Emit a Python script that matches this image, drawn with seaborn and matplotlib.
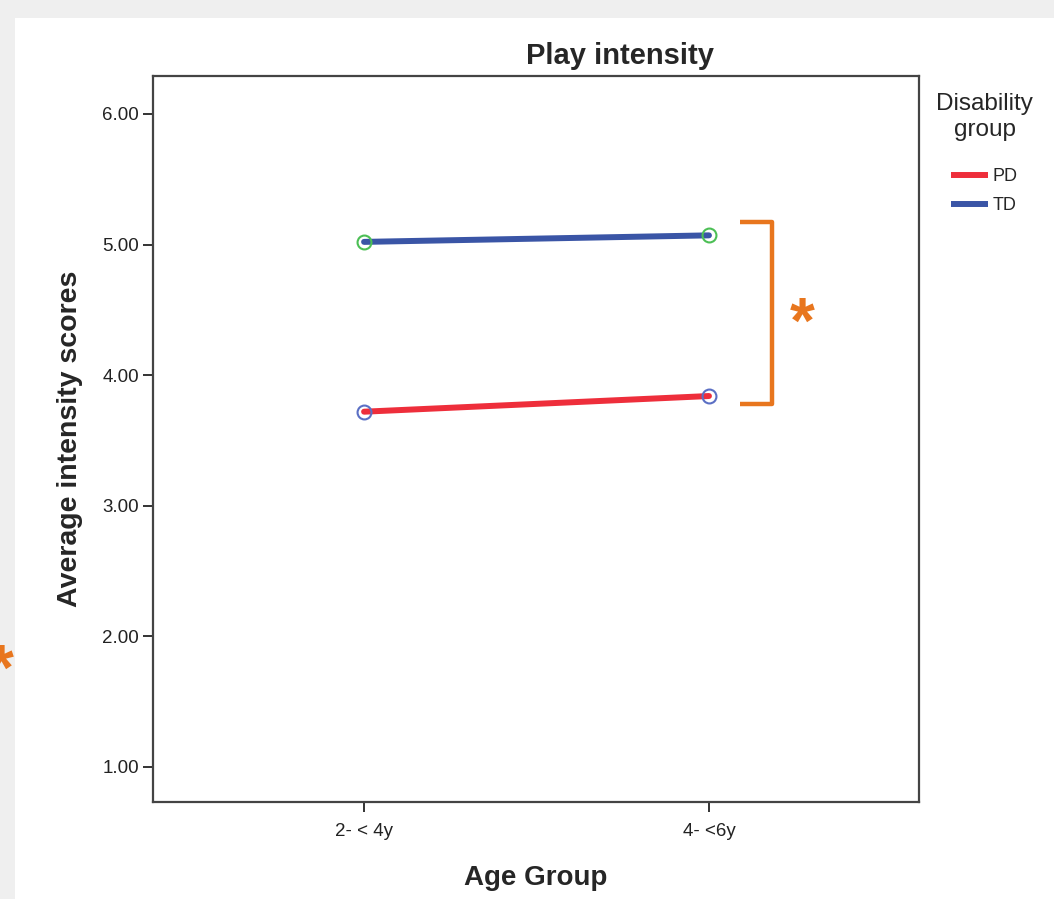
import matplotlib
matplotlib.use("Agg")
import matplotlib.pyplot as plt
import seaborn as sns
import pandas as pd
from matplotlib.patches import Rectangle
from matplotlib.lines import Line2D

age_groups = ["2- < 4y", "4- <6y"]
groups = ["PD", "TD"]
pd_scores = [3.72, 3.84]
td_scores = [5.02, 5.07]
y_ticks = [1.0, 2.0, 3.0, 4.0, 5.0, 6.0]

df = pd.DataFrame({
    "age": age_groups * 2,
    "group": ["PD"] * 2 + ["TD"] * 2,
    "score": pd_scores + td_scores,
})

sns.set_style("white")
plt.rcParams["font.family"] = ["Liberation Sans", "DejaVu Sans"]

W, H = 1054, 899
fig = plt.figure(figsize=(W / 100, H / 100), dpi=100, facecolor="white")
# light grey screenshot border
fig.patches.append(Rectangle((0, 1 - 18 / H), 1, 18 / H, transform=fig.transFigure,
                             facecolor="#efefef", edgecolor="none", zorder=0))
fig.patches.append(Rectangle((0, 0), 15 / W, 1, transform=fig.transFigure,
                             facecolor="#efefef", edgecolor="none", zorder=0))

ax = fig.add_axes([153 / W, 1 - 802 / H, (919 - 153) / W, (802 - 76) / H])

line_colors = {"PD": "#ee2e3b", "TD": "#3a55a6"}
marker_colors = {"PD": "#5b6fc4", "TD": "#4cbf55"}

sns.lineplot(data=df, x="age", y="score", hue="group", palette=line_colors,
             linewidth=4.3, ax=ax, legend=False, sort=False)
for g in groups:
    sub = df[df["group"] == g]
    ax.plot(sub["age"], sub["score"], linestyle="none", marker="o", markersize=10,
            markerfacecolor="none", markeredgecolor=marker_colors[g], markeredgewidth=1.5)

ax.set_xlim(-0.612, 1.609)
ax.set_ylim(0.732, 6.29)
ax.set_yticks(y_ticks)
ax.set_yticklabels([f"{v:.2f}" for v in y_ticks], fontsize=13.5, color="#222222")
ax.tick_params(axis="x", labelsize=13.5, colors="#222222", pad=8)
ax.tick_params(axis="y", pad=3)
ax.tick_params(axis="both", direction="out", length=7, width=1.4, color="#333333",
               left=True, bottom=True)
for s in ax.spines.values():
    s.set_color("#444444")
    s.set_linewidth(1.6)

ax.set_title("Play intensity", fontsize=21, fontweight="bold", pad=9, x=0.61)
ax.set_xlabel("Age Group", fontsize=20, fontweight="bold", labelpad=18)
ax.set_ylabel("Average intensity scores", fontsize=20.5, fontweight="bold", labelpad=14)

# legend
handles = [Line2D([0], [0], color=line_colors[g], lw=4.3, solid_capstyle="butt")
           for g in groups]
leg = fig.legend(handles, groups, title="Disability\ngroup", loc="upper left",
                 bbox_to_anchor=(929 / W, 1 - 86 / H), frameon=False, fontsize=13,
                 title_fontsize=17.5, handlelength=2.0, handletextpad=0.3,
                 labelspacing=0.65, borderaxespad=0)
leg.get_title().set_multialignment("center")
leg.get_title().set_linespacing(1.2)
leg._legend_box.align = "center"
leg._legend_box.sep = 20

# significance bracket
orange = "#e8761e"
ax.plot([1.090, 1.183, 1.183, 1.090], [5.173, 5.173, 3.779, 3.779], color=orange,
        lw=3.2, clip_on=False, solid_joinstyle="round", solid_capstyle="butt")
ax.text(1.270, 4.61, "*", color=orange, fontsize=46, fontweight="bold",
        ha="center", va="top", clip_on=False)
fig.text(1 / W, 1 - 643 / H, "*", color=orange, fontsize=46, fontweight="bold",
         ha="center", va="top")

fig.savefig("out.png", dpi=100, facecolor=fig.get_facecolor())
